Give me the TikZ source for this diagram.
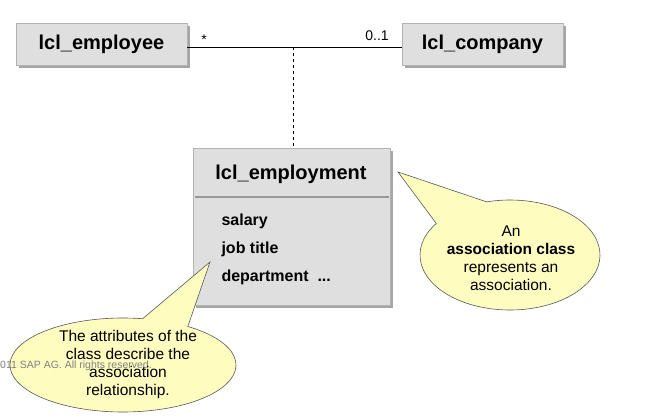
\documentclass[tikz,border=0pt]{standalone}
\usepackage{fontspec}
\setmainfont{Liberation Sans}
\usetikzlibrary{calc}
\tikzset{
 cls/.style={fill=gray!25,draw=gray!60,line width=0.6pt},
 shadow/.style={fill=gray!70,draw=none},
 callout/.style={fill=yellow!25!white,draw=gray!70!black,line width=0.6pt},
 ttl/.style={font=\fontsize{20}{24}\selectfont\bfseries},
 attr/.style={font=\fontsize{16}{18}\selectfont\bfseries,anchor=west},
 mult/.style={font=\fontsize{14}{16}\selectfont},
 ctext/.style={font=\fontsize{15.5}{18}\selectfont,align=center},
}
\begin{document}
\begin{tikzpicture}[x=1pt,y=-1pt]
\useasboundingbox (0,0) rectangle (656,417);
% shadows
\fill[shadow] (19,26) rectangle (190,68);
\fill[shadow] (405,26) rectangle (566,68);
\fill[shadow] (196,151) rectangle (393,308);
% boxes
\draw[cls] (16,23) rectangle (187,65);
\node[ttl] (emp) at (101.5,44) {lcl\_employee};
\coordinate (empR) at (187,47);
\draw[cls] (402,23) rectangle (563,65);
\node[ttl] (comp) at (482.5,44) {lcl\_company};
\coordinate (compL) at (402,47);
\draw[cls] (193,148) rectangle (390,305);
\draw[gray!80,line width=2pt] (195,197) -- (389,197);
\node[ttl] (ecls) at (291,174) {lcl\_employment};
\coordinate (mid) at (293,47);
\coordinate (etop) at (293,148);
\draw[black,line width=0.6pt] (empR) -- (compL);
\draw[dashed,line width=0.6pt] (mid) -- (etop);
\node[mult] (st) at (204,40) {*};
\node[mult] (zo) at (377,36) {0..1};
\node[attr] (a1) at (218,221) {salary};
\node[attr] (a2) at (218,249) {job title};
\node[attr] (a3) at (218,277) {department\ \ ...};
% right callout
\coordinate (rc) at (510,255);
\coordinate (rtip) at (398,172);
\draw[callout] (rtip) -- ($(rc)+(215:90 and 55)$) arc[start angle=215, end angle=-105, x radius=90, y radius=55] -- cycle;
\node[ctext] (r) at (511,258) {An\\\textbf{association class}\\represents an\\association.};
% left callout
\coordinate (lc) at (123,365);
\coordinate (ltip) at (210,262);
\draw[callout] (ltip) -- ($(lc)+(-55:113 and 47)$) arc[start angle=-55, end angle=280, x radius=113, y radius=47] -- cycle;
\node[font=\fontsize{10.5}{12}\selectfont,text=gray,anchor=west,inner sep=0] (c) at (0,366) {011 SAP AG. All rights reserved.};
\node[ctext] (l) at (128,364) {The attributes of the\\class describe the\\association\\relationship.};
\end{tikzpicture}
\end{document}
